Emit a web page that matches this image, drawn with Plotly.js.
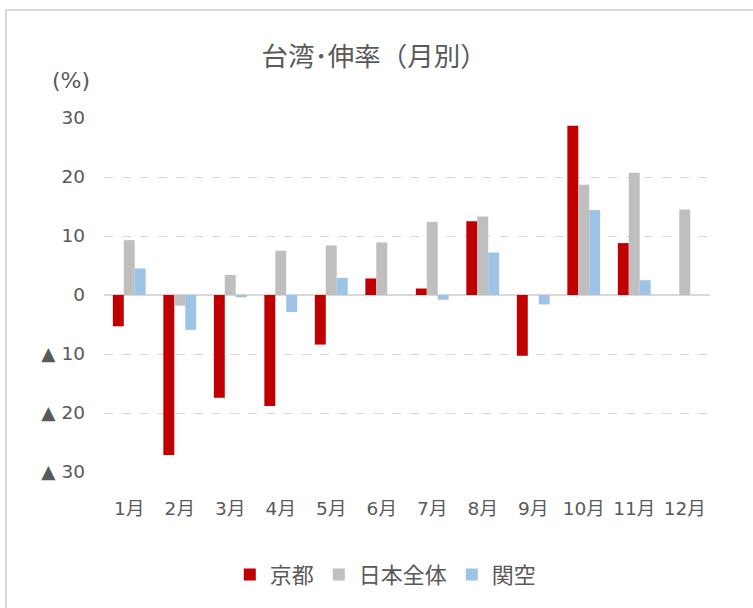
<!DOCTYPE html>
<html>
<head>
<meta charset="utf-8">
<script src="https://cdn.plot.ly/plotly-3.0.1.min.js"></script>
<style>
  body { margin: 0; background: #fff; }
  #wrap { position: relative; width: 753px; height: 608px; }
  #frame { position: absolute; left: 5px; top: 9px; width: 746px; height: 610px;
           border-left: 2px solid #d9d9d9; border-top: 2px solid #d9d9d9; pointer-events: none; }
  #plot { position: absolute; left: 0; top: 0; width: 753px; height: 608px; }
</style>
</head>
<body>
<div id="wrap">
  <div id="plot"></div>
  <div id="frame"></div>
</div>
<script>
// 台湾からの伸率（月別）
const MONTHS = ['1月', '2月', '3月', '4月', '5月', '6月', '7月', '8月', '9月', '10月', '11月', '12月'];
const KYOTO  = [-5.3, -27.1, -17.4, -18.8, -8.4, 2.8, 1.1, 12.5, -10.3, 28.7, 8.8, null];
const JAPAN  = [9.3, -1.8, 3.4, 7.5, 8.4, 8.9, 12.4, 13.3, 0, 18.7, 20.7, 14.5];
const KANSAI = [4.5, -5.9, -0.4, -2.9, 2.9, null, -0.8, 7.2, -1.6, 14.4, 2.5, null];

const Y_TICKS = [30, 20, 10, 0, -10, -20, -30];
const Y_LABELS = ['30', '20', '10', '0', '▲ 10', '▲ 20', '▲ 30'];

const FONT = '"DejaVu Sans", "Noto Sans CJK JP", sans-serif';
const TXT = '#595959';

const bar = (name, y, color) => ({
  type: 'bar', x: MONTHS, y, name,
  marker: { color, line: { width: 0 } },
  hoverinfo: 'skip'
});

const traces = [
  bar('京都', KYOTO, '#C00000'),
  bar('日本全体', JAPAN, '#BFBFBF'),
  bar('関空', KANSAI, '#9DC3E6'),
];

const layout = {
  width: 753, height: 608,
  paper_bgcolor: '#fff', plot_bgcolor: '#fff',
  font: { family: FONT, color: TXT, size: 18 },
  margin: { l: 104, r: 43, t: 118, b: 134 },
  title: { text: '台湾･伸率（月別）', xref: 'container', x: 0.497, xanchor: 'center',
           yref: 'container', y: 0.906, yanchor: 'middle',
           font: { size: 26.5, color: TXT, family: FONT } },
  barmode: 'group', bargap: 0.35, bargroupgap: 0,
  xaxis: {
    type: 'category', showgrid: false, zeroline: false, showline: false,
    ticks: '', ticklabelstandoff: 23, tickfont: { size: 18.5, color: TXT }
  },
  yaxis: {
    range: [-30, 30], tickvals: Y_TICKS, ticktext: Y_LABELS,
    showgrid: true, gridcolor: '#d9d9d9', griddash: 'dash', gridwidth: 1,
    zeroline: true, zerolinecolor: '#d9d9d9', zerolinewidth: 2,
    showline: false, ticks: '', ticklabelstandoff: 18,
    tickfont: { size: 18.5, color: TXT }
  },
  legend: {
    orientation: 'h', x: 0.465, xanchor: 'center', y: -0.29, yanchor: 'middle',
    font: { size: 22, color: TXT }, itemwidth: 30, traceorder: 'normal'
  },
  annotations: [{
    text: '(%)', xref: 'paper', yref: 'paper', x: -0.055, y: 1.107,
    xanchor: 'center', yanchor: 'middle', showarrow: false,
    font: { size: 22, color: TXT }
  }]
};

Plotly.newPlot('plot', traces, layout, { displayModeBar: false, staticPlot: true });
</script>
</body>
</html>
